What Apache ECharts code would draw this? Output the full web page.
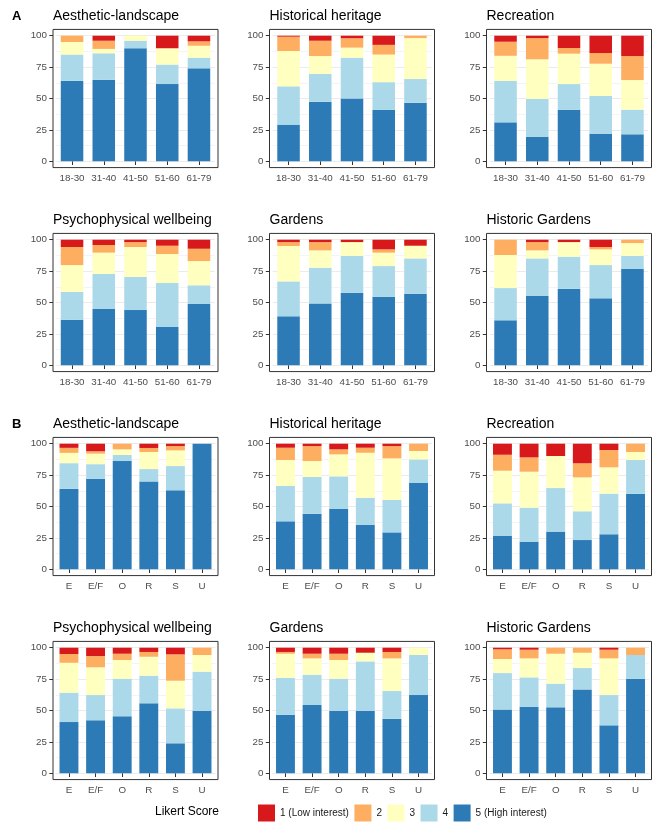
<!DOCTYPE html>
<html>
<head>
<meta charset="utf-8">
<script src="https://cdn.jsdelivr.net/npm/echarts@6/dist/echarts.min.js"></script>
<style>
  html, body { margin: 0; padding: 0; background: #ffffff; }
  #chart { width: 655px; height: 824px; }
</style>
</head>
<body>
<div id="chart"></div>
<script>
// Likert levels, in legend order (1 = low interest ... 5 = high interest)
const likertLevels = ['1 (Low interest)', '2', '3', '4', '5 (High interest)'];
const likertColors = ['#D7191C', '#FDAE61', '#FFFFBF', '#ABD9E9', '#2C7BB6'];

// Category axes
const ageGroups = ['18-30', '31-40', '41-50', '51-60', '61-79'];
const visitorGroups = ['E', 'E/F', 'O', 'R', 'S', 'U'];

// y-axis ticks (percent of respondents)
const yTickStep = 25;
const yMax = 100;

// Percent of answers per Likert level (rows: level 1..5), one column per category.
// Section A: by age group
const ageAesthetic = [
  [0, 4, 0, 10, 4.5],
  [5, 6.5, 0, 0, 3.5],
  [10, 3.5, 4, 13, 9.5],
  [21, 21, 6, 15.5, 8.5],
  [64, 65, 90, 61.5, 74]
];
const ageHeritage = [
  [0.8, 4, 2, 7.3, 0],
  [11.4, 12.2, 7.5, 7.7, 1.9],
  [28.1, 14.3, 8, 22, 32.6],
  [30.5, 22, 32.5, 22, 18.8],
  [29.2, 47.5, 50, 41, 46.7]
];
const ageRecreation = [
  [4.8, 1.9, 9.8, 13.8, 16.2],
  [11.2, 16.9, 4.5, 8.5, 19.1],
  [20, 31.6, 24.2, 25.7, 23.6],
  [33, 30, 20.5, 30, 19.6],
  [31, 19.6, 41, 22, 21.5]
];
const ageWellbeing = [
  [5.8, 4.2, 1.9, 4.8, 7.2],
  [14.4, 6.1, 3.9, 6.6, 9.8],
  [21.4, 17, 23.9, 23.1, 19.3],
  [22.1, 27.9, 26.3, 35, 14.9],
  [36.3, 44.8, 44, 30.5, 48.8]
];
const ageGardens = [
  [1.9, 1.9, 1.9, 7.7, 4.8],
  [3.1, 6.6, 0, 2.6, 0],
  [28.2, 13.8, 11.1, 10.7, 10.1],
  [27.8, 28.4, 29.2, 24.4, 28.3],
  [39, 49.3, 57.8, 54.6, 56.8]
];
const ageHistoricGardens = [
  [0, 1.9, 1.9, 5.8, 0],
  [12.2, 6.6, 0, 1.9, 2.7],
  [26.3, 6.4, 11.6, 12.5, 10.3],
  [25.7, 29.9, 25.5, 26.5, 10.3],
  [35.8, 55.2, 61, 53.3, 76.7]
];

// Section B: by visitor group
const groupAesthetic = [
  [3.3, 6, 0, 3.4, 1.9, 0],
  [4, 1.9, 4.5, 3.2, 3.4, 0],
  [8.2, 8.4, 4.5, 13.6, 12.5, 0],
  [20.5, 11.7, 4.8, 9.8, 19.3, 0],
  [64, 72, 86.2, 70, 62.9, 100]
];
const groupHeritage = [
  [3.2, 1.9, 4.5, 3.2, 1.9, 0],
  [9.8, 11.9, 4, 4, 9.8, 5.8],
  [20.7, 12.7, 17.5, 35.8, 33.1, 6.7],
  [28.1, 29.2, 26, 21.5, 25.8, 18.8],
  [38.2, 44.3, 48, 35.5, 29.4, 68.7]
];
const groupRecreation = [
  [8.8, 10.9, 9.8, 15.6, 5, 0],
  [12.7, 11.4, 0, 11.2, 13.8, 6.6],
  [26, 28.6, 25.5, 27, 21, 6.4],
  [26, 27.1, 34.7, 22.9, 32.3, 26.8],
  [26.5, 22, 30, 23.3, 27.9, 60.2]
];
const groupWellbeing = [
  [5, 6.6, 4.8, 3.4, 5.3, 0],
  [7, 9, 5, 3.8, 21, 5.8],
  [23.8, 22.1, 14.9, 15.1, 22, 13.3],
  [23.4, 20.1, 29.9, 22, 27.8, 31],
  [40.8, 42.2, 45.4, 55.7, 23.9, 49.9]
];
const groupGardens = [
  [3.4, 4.8, 4.8, 4, 3.4, 0],
  [1.4, 3.7, 5, 0, 5.1, 0],
  [19.3, 13, 14.9, 6.9, 26, 5.8],
  [29.2, 24.1, 25.4, 39.2, 22, 31.9],
  [46.7, 54.4, 49.9, 49.9, 43.5, 62.3]
];
const groupHistoricGardens = [
  [1.3, 1.6, 0, 0, 1.6, 0],
  [7.7, 6.9, 4.8, 4, 6.9, 5.8],
  [11.2, 15.1, 23.8, 12.2, 29.2, 0],
  [29.1, 23.4, 18.9, 17, 24.1, 18.9],
  [50.7, 53, 52.5, 66.8, 38.2, 75.3]
];

const panelTitles = [
  'Aesthetic-landscape', 'Historical heritage', 'Recreation',
  'Psychophysical wellbeing', 'Gardens', 'Historic Gardens'
];
const sectionLabels = ['A', 'B'];

const panels = [
  { categories: ageGroups, values: ageAesthetic },
  { categories: ageGroups, values: ageHeritage },
  { categories: ageGroups, values: ageRecreation },
  { categories: ageGroups, values: ageWellbeing },
  { categories: ageGroups, values: ageGardens },
  { categories: ageGroups, values: ageHistoricGardens },
  { categories: visitorGroups, values: groupAesthetic },
  { categories: visitorGroups, values: groupHeritage },
  { categories: visitorGroups, values: groupRecreation },
  { categories: visitorGroups, values: groupWellbeing },
  { categories: visitorGroups, values: groupGardens },
  { categories: visitorGroups, values: groupHistoricGardens }
];

// ---- layout of the 4 x 3 panel grid ----
const FONT = "'Liberation Sans', Arial, Helvetica, sans-serif";
const colLeft = [53, 269.5, 486.5];
const frameWidth = 165;
const rowPlotTop = [35.7, 239.7, 443.7, 647.7];
const plotHeight = 125.6;
const yPad = plotHeight * 0.05;       // 5% expansion above 100 and below 0
const tickLen = 3.7;
const axisText = { fontFamily: FONT, fontSize: 9.8, color: '#4D4D4D' };

const grids = [], xAxes = [], yAxes = [], series = [], titles = [];

panels.forEach(function (panel, i) {
  const row = Math.floor(i / 3);
  const col = i % 3;
  const n = panel.categories.length;
  const unit = frameWidth / (n + 0.2);  // discrete axis padded by 0.6 on each side
  const xInset = unit * 0.1;
  const left = colLeft[col];
  const top = rowPlotTop[row];

  // panel border
  grids.push({
    left: left, top: top - yPad, width: frameWidth, height: plotHeight + 2 * yPad,
    show: true, borderColor: '#333333', borderWidth: 1, backgroundColor: 'transparent',
    outerBoundsMode: 'none', z: 5
  });
  // plotting area (0..100)
  const gi = grids.length;
  grids.push({
    left: left + xInset, top: top, width: frameWidth - 2 * xInset, height: plotHeight,
    show: false, outerBoundsMode: 'none', containLabel: false
  });

  const axisIndex = xAxes.length;
  xAxes.push({
    type: 'category', gridIndex: gi, data: panel.categories, offset: yPad,
    axisLine: { show: false },
    axisTick: { show: true, alignWithLabel: true, length: tickLen, lineStyle: { color: '#333333', width: 1 } },
    axisLabel: Object.assign({ margin: 6, interval: 0 }, axisText),
    splitLine: { show: false }
  });
  yAxes.push({
    type: 'value', gridIndex: gi, min: 0, max: yMax, interval: yTickStep, offset: xInset,
    axisLine: { show: false },
    axisTick: { show: true, length: tickLen, lineStyle: { color: '#333333', width: 1 } },
    axisLabel: Object.assign({ margin: 6 }, axisText),
    splitLine: { show: true, lineStyle: { color: '#EBEBEB', width: 1 } },
    minorTick: { show: false, splitNumber: 2 },
    minorSplitLine: { show: true, lineStyle: { color: '#F4F4F4', width: 1 } }
  });

  // stack from level 5 (bottom) up to level 1 (top)
  for (let lv = likertLevels.length - 1; lv >= 0; lv--) {
    series.push({
      type: 'bar', name: likertLevels[lv], stack: 'panel' + i,
      xAxisIndex: axisIndex, yAxisIndex: axisIndex,
      barWidth: '71%',
      itemStyle: { color: likertColors[lv] },
      emphasis: { disabled: true },
      data: panel.values[lv]
    });
  }

  titles.push({
    text: panelTitles[i % 6], left: left, top: top - 26.5, padding: 0,
    textStyle: { fontFamily: FONT, fontSize: 14, fontWeight: 'normal', color: '#000000' }
  });
});

sectionLabels.forEach(function (label, s) {
  titles.push({
    text: label, left: 12, top: rowPlotTop[s * 2] - 26, padding: 0,
    textStyle: { fontFamily: FONT, fontSize: 13, fontWeight: 'bold', color: '#000000' }
  });
});

titles.push({
  text: 'Likert Score', left: 155, top: 806, padding: 0,
  textStyle: { fontFamily: FONT, fontSize: 12, fontWeight: 'normal', color: '#000000' }
});

const chart = echarts.init(document.getElementById('chart'), null, { renderer: 'canvas' });
chart.setOption({
  animation: false,
  backgroundColor: '#ffffff',
  textStyle: { fontFamily: FONT },
  title: titles,
  grid: grids,
  xAxis: xAxes,
  yAxis: yAxes,
  legend: {
    data: likertLevels, left: 258, top: 804.5, padding: 0,
    itemWidth: 17, itemHeight: 17, itemGap: 5.5, icon: 'rect',
    selectedMode: false,
    textStyle: { fontFamily: FONT, fontSize: 10, color: '#1A1A1A' }
  },
  tooltip: { show: false },
  series: series
});
</script>
</body>
</html>
